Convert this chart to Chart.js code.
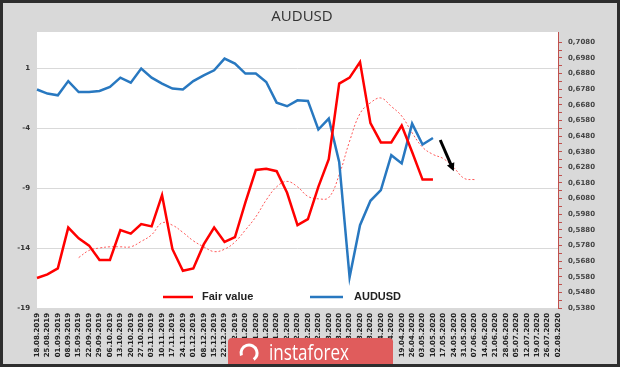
<!DOCTYPE html>
<html>
<head>
<meta charset="utf-8">
<script src="https://cdn.jsdelivr.net/npm/chart.js@4.4.1/dist/chart.umd.min.js"></script>
<style>
  body { margin: 0; background: #d9d9d9; }
  canvas { display: block; }
</style>
</head>
<body>
<canvas id="myChart" width="620" height="367"></canvas>
<script>
// weekly dates
var weeks = [
    '18.08.2019', '25.08.2019', '01.09.2019', '08.09.2019', '15.09.2019', '22.09.2019', '29.09.2019',
    '06.10.2019', '13.10.2019', '20.10.2019', '27.10.2019', '03.11.2019', '10.11.2019', '17.11.2019',
    '24.11.2019', '01.12.2019', '08.12.2019', '15.12.2019', '22.12.2019', '29.12.2019', '05.01.2020',
    '12.01.2020', '19.01.2020', '26.01.2020', '02.02.2020', '09.02.2020', '16.02.2020', '23.02.2020',
    '01.03.2020', '08.03.2020', '15.03.2020', '22.03.2020', '29.03.2020', '05.04.2020', '12.04.2020',
    '19.04.2020', '26.04.2020', '03.05.2020', '10.05.2020', '17.05.2020', '24.05.2020', '31.05.2020',
    '07.06.2020', '14.06.2020', '21.06.2020', '28.06.2020', '05.07.2020', '12.07.2020', '19.07.2020',
    '26.07.2020', '02.08.2020'
];

// left axis
var fairValue = [
    -16.5, -16.2, -15.7, -12.3, -13.2, -13.8, -15.0, -15.0, -12.5, -12.8,
    -12.0, -12.2, -9.6, -14.1, -15.9, -15.7, -13.7, -12.3, -13.5, -13.1,
    -10.2, -7.5, -7.4, -7.6, -9.4, -12.1, -11.6, -8.9, -6.6, -0.3,
    0.2, 1.5, -3.6, -5.2, -5.2, -3.8, -6.0, -8.3, -8.3
];

// dotted trend of fair value (left axis)
var fairTrend = [
    null, null, null, null, -14.8, -14.2, -14.0, -13.9, -13.9, -13.9,
    -13.45, -12.9, -11.9, -12.1, -12.7, -13.4, -13.9, -14.3, -14.1, -13.5,
    -12.5, -11.4, -10.0, -8.9, -8.45, -8.9, -9.7, -9.9, -9.8, -7.9,
    -5.1, -2.8, -1.9, -1.5, -2.2, -3.0, -4.4, -5.6, -6.2, -6.55,
    -7.3, -8.2, -8.3
];

// right axis
var audusd = [
    0.6778, 0.6752, 0.6741, 0.6832, 0.6762, 0.6762, 0.6769, 0.6794, 0.6854, 0.6822,
    0.6912, 0.6854, 0.6816, 0.6784, 0.6778, 0.6832, 0.6869, 0.6901, 0.6976, 0.6944,
    0.6880, 0.6880, 0.6826, 0.6694, 0.6671, 0.6709, 0.6705, 0.6522, 0.6592, 0.6315,
    0.5576, 0.5910, 0.6066, 0.6134, 0.6358, 0.6305, 0.6560, 0.6426, 0.6468
];

var leftTicks = [-19, -14, -9, -4, 1];
var rightTicks = [
    0.538, 0.548, 0.558, 0.568, 0.578, 0.588, 0.598, 0.608, 0.618,
    0.628, 0.638, 0.648, 0.658, 0.668, 0.678, 0.688, 0.698, 0.708
];

// arrow: [week index, left axis value]
var arrowFrom = [38.7, -5.0];
var arrowTo = [40.0, -7.6];

var axisFont = { family: 'DejaVu Sans', size: 7, weight: 'bold' };

var decor = {
    id: 'decor',
    beforeDraw: function(chart) {
        var ctx = chart.ctx;
        var a = chart.chartArea;
        ctx.save();
        ctx.fillStyle = '#d9d9d9';
        ctx.fillRect(0, 0, chart.width, chart.height);
        ctx.fillStyle = '#ffffff';
        ctx.fillRect(a.left, a.top, a.right - a.left, a.bottom - a.top);
        ctx.restore();
    },
    afterDraw: function(chart) {
        var ctx = chart.ctx;
        var xs = chart.scales.x;
        var ys = chart.scales.y;
        ctx.save();

        // legend inside the plot
        var items = [
            { ds: chart.data.datasets[0], x1: 163, x2: 193, tx: 202 },
            { ds: chart.data.datasets[1], x1: 310, x2: 343, tx: 354 }
        ];
        ctx.font = 'bold 11px "Liberation Sans"';
        ctx.textBaseline = 'middle';
        items.forEach(function(it) {
            ctx.strokeStyle = it.ds.borderColor;
            ctx.lineWidth = 2.5;
            ctx.beginPath();
            ctx.moveTo(it.x1, 297);
            ctx.lineTo(it.x2, 297);
            ctx.stroke();
            ctx.fillStyle = '#222';
            ctx.fillText(it.ds.label, it.tx, 297);
        });

        // arrow
        var x0 = xs.getPixelForValue(arrowFrom[0]), y0 = ys.getPixelForValue(arrowFrom[1]);
        var x1 = xs.getPixelForValue(arrowTo[0]), y1 = ys.getPixelForValue(arrowTo[1]);
        var ang = Math.atan2(y1 - y0, x1 - x0);
        ctx.strokeStyle = '#000';
        ctx.fillStyle = '#000';
        ctx.lineWidth = 3;
        ctx.beginPath();
        ctx.moveTo(x0, y0);
        ctx.lineTo(x1 - 5 * Math.cos(ang), y1 - 5 * Math.sin(ang));
        ctx.stroke();
        ctx.beginPath();
        ctx.moveTo(x1, y1);
        ctx.lineTo(x1 - 8 * Math.cos(ang) + 4 * Math.sin(ang), y1 - 8 * Math.sin(ang) - 4 * Math.cos(ang));
        ctx.lineTo(x1 - 8 * Math.cos(ang) - 4 * Math.sin(ang), y1 - 8 * Math.sin(ang) + 4 * Math.cos(ang));
        ctx.closePath();
        ctx.fill();

        // watermark
        ctx.fillStyle = '#e05c5c';
        ctx.beginPath();
        ctx.moveTo(228, 367);
        ctx.lineTo(228, 342);
        ctx.quadraticCurveTo(228, 338, 232, 338);
        ctx.lineTo(389, 338);
        ctx.quadraticCurveTo(393, 338, 393, 342);
        ctx.lineTo(393, 367);
        ctx.closePath();
        ctx.fill();
        ctx.strokeStyle = '#ffffff';
        ctx.lineWidth = 3;
        ctx.beginPath();
        ctx.arc(249, 353, 8, Math.PI * 0.9, Math.PI * 2.3);
        ctx.stroke();
        ctx.fillStyle = '#ffffff';
        ctx.font = '21px "Open Sans"';
        ctx.textBaseline = 'alphabetic';
        ctx.fillText('instaforex', 269, 360, 80);

        // frame
        ctx.strokeStyle = '#2e2e2e';
        ctx.lineWidth = 3;
        ctx.strokeRect(1.5, 1.5, chart.width - 3, chart.height - 3);
        ctx.restore();
    }
};

var chartdata = {
    labels: weeks,
    datasets: [
        {
            label: 'Fair value',
            data: fairValue,
            borderColor: '#ff0000',
            borderWidth: 2.5,
            pointRadius: 0,
            tension: 0,
            yAxisID: 'y'
        },
        {
            label: 'AUDUSD',
            data: audusd,
            borderColor: '#2878c0',
            borderWidth: 2.5,
            pointRadius: 0,
            tension: 0,
            yAxisID: 'y1'
        },
        {
            label: 'trend',
            data: fairTrend,
            borderColor: '#ff5a5a',
            borderWidth: 1,
            borderDash: [2, 2],
            pointRadius: 0,
            tension: 0.4,
            yAxisID: 'y'
        }
    ]
};

var ctx = 'myChart';

var lineGraph = new Chart(ctx, {
    type: 'line',
    data: chartdata,
    plugins: [decor],
    options: {
        responsive: false,
        animation: false,
        devicePixelRatio: 1,
        layout: { padding: { left: 0, right: 16, top: 0, bottom: 0 } },
        plugins: {
            legend: { display: false },
            tooltip: { enabled: false },
            title: {
                display: true,
                text: 'AUDUSD',
                color: '#333',
                font: { family: 'Open Sans', size: 15, weight: 'normal' },
                padding: { top: 8, bottom: 6 }
            }
        },
        scales: {
            x: {
                offset: false,
                grid: { display: false, drawTicks: false, tickLength: 0 },
                border: { display: false },
                ticks: {
                    autoSkip: false,
                    maxRotation: 90,
                    minRotation: 90,
                    padding: 5,
                    color: '#222',
                    font: axisFont
                },
                afterFit: function(s) { s.height = 59; }
            },
            y: {
                position: 'left',
                min: -19,
                max: 4,
                afterBuildTicks: function(s) {
                    s.ticks = leftTicks.map(function(v) { return { value: v }; });
                },
                grid: { color: '#d9d9d9', drawTicks: false },
                border: { display: false },
                ticks: { padding: 7, color: '#333', font: axisFont },
                afterFit: function(s) { s.width = 37; }
            },
            y1: {
                position: 'right',
                min: 0.538,
                max: 0.7146,
                afterBuildTicks: function(s) {
                    var t = [];
                    for (var i = 0; i < rightTicks.length; i++) {
                        t.push({ value: rightTicks[i] });
                        if (i < rightTicks.length - 1) t.push({ value: rightTicks[i] + 0.005 });
                    }
                    s.ticks = t;
                },
                grid: { drawOnChartArea: false, drawTicks: true, tickLength: 4, color: '#c0504d' },
                border: { display: true, color: '#c0504d', width: 1 },
                ticks: {
                    autoSkip: false,
                    padding: 6,
                    color: '#444',
                    font: axisFont,
                    callback: function(v) {
                        for (var i = 0; i < rightTicks.length; i++) {
                            if (Math.abs(rightTicks[i] - v) < 0.0001) return v.toFixed(4).replace('.', ',');
                        }
                        return '';
                    }
                },
                afterFit: function(s) { s.width = 46; }
            }
        }
    }
});
</script>
</body>
</html>
